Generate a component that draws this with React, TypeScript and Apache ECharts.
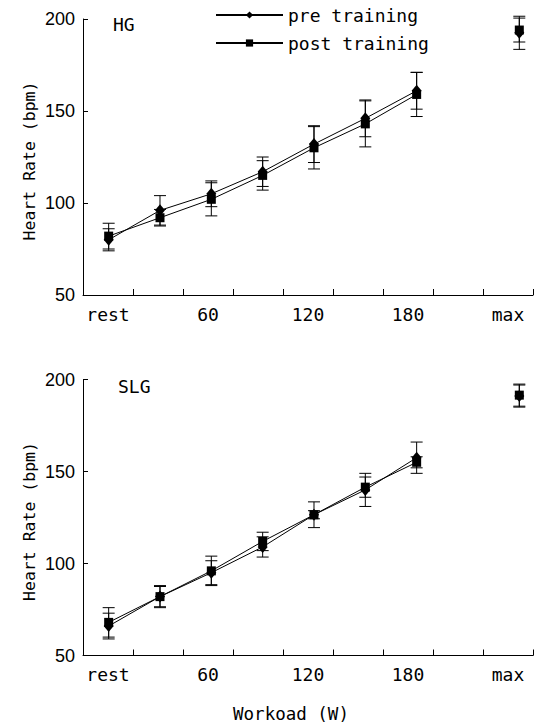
import React, { useEffect, useRef } from "react";
import * as echarts from "echarts";

// ---- data ----
const stages = ["rest", "30", "60", "90", "120", "150", "180", "max"];
const workloadPos = [0, 30, 60, 90, 120, 150, 180, 240];
const axisLabels = ["rest", "", "60", "", "120", "", "180", "", "max"];

const hgPre = [80, 96, 105, 117, 132, 146, 161, 192.5];
const hgPreSd = [6, 8, 7, 8, 10, 10, 10, 9];
const hgPost = [82, 92, 102, 115, 130, 143, 159, 194];
const hgPostSd = [7, 4.5, 9, 8, 11.5, 12.5, 12, 6.5];

const slgPre = [66, 82, 95, 109, 126.5, 140, 157.5, 191];
const slgPreSd = [7, 6, 6.5, 5.5, 7, 9, 8.5, 6];
const slgPost = [68, 82, 96, 112, 126.5, 141.5, 155, 191.5];
const slgPostSd = [8, 5.5, 8, 5, 2.2, 5.5, 3, 6];

const yTicks = { min: 50, max: 200, interval: 50 };
const yTitle = "Heart Rate (bpm)";
const xTitle = "Workoad (W)";

const MONO = '"DejaVu Sans Mono", "Liberation Mono", monospace';
const SANS = '"Liberation Sans", Arial, sans-serif';

function errorBarSeries(xIdx: number, yIdx: number, vals: number[], sds: number[]) {
  return {
    type: "custom",
    xAxisIndex: xIdx,
    yAxisIndex: yIdx,
    encode: { x: 0, y: [1, 2] },
    z: 1,
    silent: true,
    data: vals.map((v, i) => [workloadPos[i], v - sds[i], v + sds[i]]),
    renderItem: (_params: any, api: any) => {
      const x = api.value(0);
      const lo = api.coord([x, api.value(1)]);
      const hi = api.coord([x, api.value(2)]);
      const w = 6;
      const style = { stroke: "#000", lineWidth: 1 };
      return {
        type: "group",
        children: [
          { type: "line", shape: { x1: lo[0], y1: lo[1], x2: hi[0], y2: hi[1] }, style },
          { type: "line", shape: { x1: lo[0] - w, y1: lo[1], x2: lo[0] + w, y2: lo[1] }, style },
          { type: "line", shape: { x1: hi[0] - w, y1: hi[1], x2: hi[0] + w, y2: hi[1] }, style },
        ],
      };
    },
  };
}

function lineSeries(name: string, xIdx: number, yIdx: number, vals: number[], symbol: string, size: any) {
  const common = {
    name,
    type: "line",
    xAxisIndex: xIdx,
    yAxisIndex: yIdx,
    symbol,
    symbolSize: size,
    z: 3,
    itemStyle: { color: "#000" },
    lineStyle: { color: "#000", width: 1 },
  };
  const n = stages.length - 1;
  return [
    { ...common, data: vals.slice(0, n).map((v, i) => [workloadPos[i], v]) },
    { ...common, data: [[workloadPos[n], vals[n]]] },
  ];
}

function panelSeries(xIdx: number, yIdx: number, pre: number[], preSd: number[], post: number[], postSd: number[]) {
  return [
    errorBarSeries(xIdx, yIdx, pre, preSd),
    errorBarSeries(xIdx, yIdx, post, postSd),
    ...lineSeries("pre training", xIdx, yIdx, pre, "diamond", [10, 12]),
    ...lineSeries("post training", xIdx, yIdx, post, "rect", 9),
  ];
}

function catAxis(gridIndex: number) {
  return {
    type: "category",
    gridIndex,
    data: axisLabels,
    boundaryGap: true,
    axisLine: { onZero: false, lineStyle: { color: "#000", width: 1 } },
    axisTick: { show: true, inside: true, length: 6, interval: 0, lineStyle: { color: "#000" } },
    axisLabel: { interval: 0, color: "#000", fontFamily: MONO, fontSize: 18, margin: 10 },
    splitLine: { show: false },
  };
}

function valXAxis(gridIndex: number) {
  return { type: "value", gridIndex, min: -15, max: 248, show: false, splitLine: { show: false } };
}

function yAxis(gridIndex: number) {
  return {
    type: "value",
    gridIndex,
    min: yTicks.min,
    max: yTicks.max,
    interval: yTicks.interval,
    axisLine: { show: true, onZero: false, lineStyle: { color: "#000", width: 1 } },
    axisTick: { show: true, inside: true, length: 5, lineStyle: { color: "#000" } },
    axisLabel: { color: "#000", fontFamily: SANS, fontSize: 18, margin: 8, padding: [10, 0, 0, 0] },
    splitLine: { show: false },
  };
}

function yTitleText(cy: number) {
  return {
    type: "text",
    x: 29,
    y: cy,
    rotation: Math.PI / 2,
    style: { text: yTitle, fontFamily: MONO, fontSize: 16.5, fill: "#000", align: "center", verticalAlign: "middle" },
  };
}

export default function App() {
  const ref = useRef<HTMLDivElement>(null);
  useEffect(() => {
    if (!ref.current) return;
    const chart = echarts.init(ref.current, null, { renderer: "svg" });
    chart.setOption({
      animation: false,
      backgroundColor: "#fff",
      grid: [
        { left: 83, top: 19, width: 450, height: 276 },
        { left: 83, top: 379.5, width: 450, height: 276 },
      ],
      xAxis: [catAxis(0), valXAxis(0), catAxis(1), valXAxis(1)],
      yAxis: [yAxis(0), yAxis(1)],
      legend: {
        data: ["pre training", "post training"],
        orient: "vertical",
        left: 215,
        top: 6,
        padding: 0,
        itemWidth: 67,
        itemHeight: 9,
        itemGap: 10,
        selectedMode: false,
        textStyle: { fontFamily: MONO, fontSize: 18, color: "#000" },
      },
      graphic: [
        { type: "text", left: 113, top: 15, style: { text: "HG", fontFamily: MONO, fontSize: 18, fill: "#000" } },
        { type: "text", left: 118, top: 377, style: { text: "SLG", fontFamily: MONO, fontSize: 18, fill: "#000" } },
        yTitleText(161),
        yTitleText(521.5),
        {
          type: "text",
          x: 291,
          y: 714,
          style: { text: xTitle, fontFamily: MONO, fontSize: 17.5, fill: "#000", align: "center", verticalAlign: "middle" },
        },
      ],
      series: [
        ...panelSeries(1, 0, hgPre, hgPreSd, hgPost, hgPostSd),
        ...panelSeries(3, 1, slgPre, slgPreSd, slgPost, slgPostSd),
      ],
    });
    return () => chart.dispose();
  }, []);
  return (
    <div
      ref={ref}
      style={{ position: "fixed", left: 0, top: 0, width: 536, height: 724, background: "#fff" }}
    />
  );
}
